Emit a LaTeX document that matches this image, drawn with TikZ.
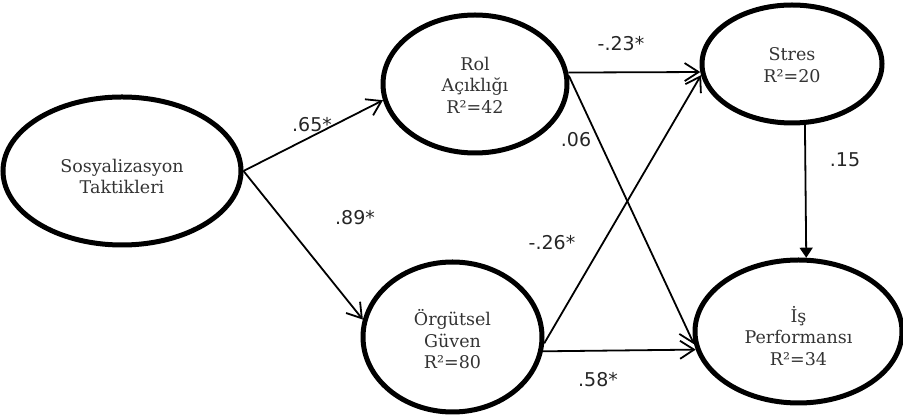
\documentclass[tikz,border=0pt]{standalone}
\usepackage{fontspec}
\setmainfont{DejaVu Serif}
\newfontfamily\labfont{DejaVu Sans}
\usetikzlibrary{arrows.meta,shapes.geometric}
\newcommand{\ntext}[2]{\raisebox{#1}[0pt][0pt]{\begin{tabular}{@{}c@{}}#2\end{tabular}}}
\begin{document}
\begin{tikzpicture}[x=1pt,y=1pt,
  var/.style={ellipse, draw, line width=5pt, inner sep=0pt,
    font=\fontsize{17.5}{21.5}\selectfont, text=black!80},
  arr/.style={line width=1.8pt, -{Straight Barb[length=14pt,width=18pt,line width=1.8pt]}},
  arrf/.style={line width=1.8pt, -{Triangle[length=10pt,width=13pt]}},
  coef/.style={font=\labfont\fontsize{19}{21}\selectfont, text=black!85, inner sep=0pt}]
\useasboundingbox (0,0) rectangle (903,417);
\node[var, minimum width=238pt, minimum height=148pt] (sos) at (122,246)
  {\ntext{-11.8pt}{Sosyalizasyon\\Taktikleri}};
\node[var, minimum width=184pt, minimum height=138pt] (rol) at (475,333)
  {\ntext{-7.8pt}{Rol\\Açıklığı\\R²=42}};
\node[var, minimum width=180pt, minimum height=118pt] (stres) at (792,353)
  {\ntext{-7.3pt}{Stres\\R²=20}};
\node[var, minimum width=207pt, minimum height=143pt] (is) at (798.5,85.5)
  {\ntext{-11.8pt}{İş\\Performansı\\R²=34}};
\node[var, minimum width=179pt, minimum height=150pt] (org) at (452.5,80)
  {\ntext{-9.8pt}{Örgütsel\\Güven\\R²=80}};

\draw[arr] (sos.east) -- (rol.190);
\draw[arr] (sos.east) -- (org.169);
\draw[arr] (rol.7) -- (stres.185.7);
\draw[arr] (rol.5) -- (is.187.4);
\draw[arr] (org.356.2) -- (stres.187.4);
\draw[arr] (org.351.6) -- (is.190.5);
\draw[arrf] (stres.282.5) -- (is.84.8);

\node[coef] (c1) at (312,292) {.65*};
\node[coef] (c2) at (355,199) {.89*};
\node[coef] (c3) at (621,373) {-.23*};
\node[coef] (c4) at (576,277) {.06};
\node[coef] (c5) at (552,174) {-.26*};
\node[coef] (c6) at (598,37) {.58*};
\node[coef] (c7) at (845,257) {.15};
\end{tikzpicture}
\end{document}
